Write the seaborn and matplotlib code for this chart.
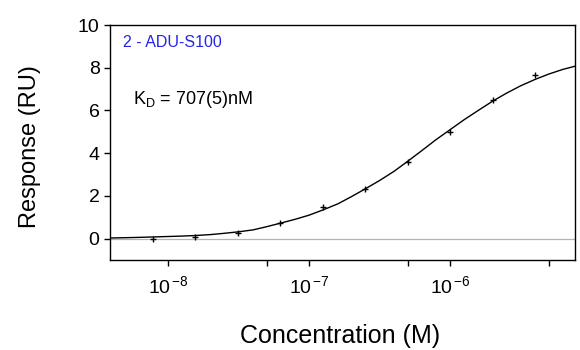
import numpy as np
import pandas as pd
import matplotlib
matplotlib.use("Agg")
import matplotlib.pyplot as plt
import matplotlib.ticker as mticker
import seaborn as sns

# --- dados ---
conc_pontos = [7.8e-9, 1.56e-8, 3.125e-8, 6.25e-8, 1.25e-7, 2.5e-7, 5e-7, 1e-6, 2e-6, 4e-6]
resp_pontos = [0.0, 0.08, 0.28, 0.75, 1.48, 2.33, 3.59, 5.0, 6.5, 7.67]

# curva de ajuste
conc_curva = [3.9e-9, 5.0e-9, 6.3e-9, 7.9e-9, 1.0e-8, 1.26e-8, 1.6e-8, 2.0e-8, 2.5e-8,
              3.16e-8, 4.0e-8, 5.0e-8, 6.3e-8, 7.9e-8, 1.0e-7, 1.26e-7, 1.6e-7, 2.0e-7,
              2.5e-7, 3.16e-7, 4.0e-7, 5.0e-7, 6.3e-7, 7.9e-7, 1.0e-6, 1.26e-6, 1.6e-6,
              2.0e-6, 2.5e-6, 3.16e-6, 4.0e-6, 5.0e-6, 6.3e-6, 7.7e-6]
resp_curva = [0.03, 0.045, 0.06, 0.08, 0.1, 0.12, 0.15, 0.19, 0.25,
              0.32, 0.41, 0.56, 0.73, 0.9, 1.1, 1.35, 1.63, 1.97,
              2.33, 2.72, 3.15, 3.62, 4.12, 4.62, 5.1, 5.57, 6.02,
              6.43, 6.8, 7.15, 7.45, 7.7, 7.92, 8.07]

xticks_maiores = [1e-8, 1e-7, 1e-6]
xticks_rotulos = [r'$10^{\,\mathregular{-8}}$', r'$10^{\,\mathregular{-7}}$', r'$10^{\,\mathregular{-6}}$']
xticks_menores = [5e-8, 5e-7, 5e-6]
yticks = [0, 2, 4, 6, 8, 10]

df_pontos = pd.DataFrame({'conc': conc_pontos, 'resp': resp_pontos})
df_curva = pd.DataFrame({'conc': conc_curva, 'resp': resp_curva})

sns.set_style("ticks")
plt.rcParams['font.family'] = ['Liberation Sans', 'DejaVu Sans']
plt.rcParams['mathtext.fontset'] = 'custom'
plt.rcParams['mathtext.rm'] = 'Liberation Sans'
plt.rcParams['mathtext.it'] = 'Liberation Sans'
plt.rcParams['axes.labelcolor'] = 'black'
plt.rcParams['text.color'] = 'black'

fig = plt.figure(figsize=(5.8, 3.5), dpi=100)
ax = fig.add_axes([110 / 580, 1 - 260 / 350, 465 / 580, 235 / 350])

ax.axhline(0, color='#b4b4b4', lw=0.9, zorder=1)
sns.lineplot(data=df_curva, x='conc', y='resp', ax=ax, color='black', lw=1.0, zorder=3)
sns.scatterplot(data=df_pontos, x='conc', y='resp', ax=ax, marker='+', s=22,
                color='black', linewidth=1.0, zorder=4)

ax.set_xscale('log')
ax.set_xlim(3.86e-9, 7.7e-6)
ax.set_ylim(-1, 10)

ax.xaxis.set_major_locator(mticker.FixedLocator(xticks_maiores))
ax.xaxis.set_minor_locator(mticker.FixedLocator(xticks_menores))
ax.xaxis.set_minor_formatter(mticker.NullFormatter())
ax.set_xticklabels(xticks_rotulos)
ax.set_yticks(yticks)

ax.tick_params(axis='both', which='both', direction='out', length=4, width=1,
               colors='black', labelsize=14)
ax.tick_params(axis='x', which='major', pad=7)
for s in ax.spines.values():
    s.set_linewidth(1.0)
    s.set_color('black')

ax.set_xlabel('Concentration (M)', fontsize=18, color='black')
ax.set_ylabel('Response (RU)', fontsize=17, color='black')
ax.xaxis.set_label_coords((340 - 110) / 465, (260 - 336) / 235)
ax.yaxis.set_label_coords((30 - 110) / 465, (260 - 147) / 235)
ax.xaxis.label.set_va('center')
ax.yaxis.label.set_va('center')

ax.text(0.029, 0.926, '2 - ADU-S100', transform=ax.transAxes, color='#2424e6',
        fontsize=11.5, ha='left', va='center')
ax.text(0.049, 0.681, r'K$_\mathregular{D}$ = 707(5)nM', transform=ax.transAxes,
        color='black', fontsize=13, ha='left', va='center')

fig.savefig('out.png', dpi=100)
